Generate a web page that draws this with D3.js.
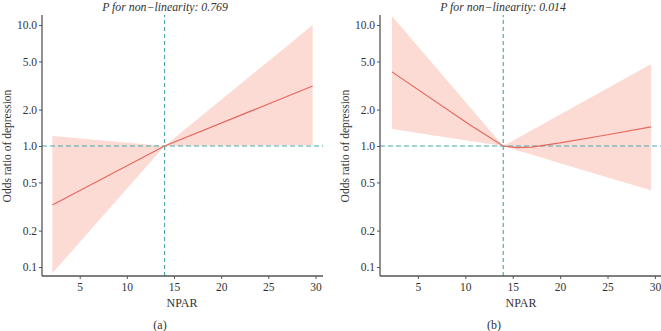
<!DOCTYPE html>
<html>
<head>
<meta charset="utf-8">
<script src="https://cdn.jsdelivr.net/npm/d3@7"></script>
<style>
body { margin: 0; background: #fff; }
text { font-family: "Liberation Serif", "DejaVu Serif", serif; fill: #333; }
</style>
</head>
<body>
<svg id="chart" width="661" height="331"></svg>
<script>
// ================= DATA =================
var yTicks = [0.1, 0.2, 0.5, 1.0, 2.0, 5.0, 10.0];
var xTicks = [5, 10, 15, 20, 25, 30];

// panel (a)
var aX     = [2.1, 14, 29.7];
var aOR    = [0.325, 1.0, 3.13];
var aLower = [0.089, 1.0, 1.02];
var aUpper = [1.21, 1.0, 10.0];
var aTitle = "P for non\u2212linearity: 0.769";

// panel (b)
var bX     = [2.26, 10.5, 14, 15.5, 17, 20, 25, 29.6];
var bOR    = [4.1, 1.49, 1.0, 0.97, 0.98, 1.06, 1.24, 1.44];
var bLower = [1.38, 1.10, 1.0, 0.92, 0.85, 0.72, 0.55, 0.43];
var bUpper = [11.9, 2.09, 1.0, 1.16, 1.35, 1.82, 3.0, 4.76];
var bTitle = "P for non\u2212linearity: 0.014";

var refX = 14;
var refY = 1;

var lineColor = "#e4685f";
var ribbonColor = "#fcdbd5";
var dashColor = "#4aa5a5";
var axisColor = "#555";

var svg = d3.select("#chart");

function panel(opts) {
    var xs = d3.scaleLinear().domain(opts.xDomain).range(opts.xRange);
    var ys = d3.scaleLog().domain([0.0843, 12.1]).range([276, 15]);

    var g = svg.append("g");

    var rows = opts.x.map(function(d, i) {
        return { x: d, or: opts.or[i], lo: opts.lo[i], hi: opts.hi[i] };
    });

    // ribbon
    var area = d3.area()
        .x(function(d) { return xs(d.x); })
        .y0(function(d) { return ys(d.lo); })
        .y1(function(d) { return ys(d.hi); });
    g.append("path").datum(rows)
        .attr("fill", ribbonColor)
        .attr("d", area);

    // reference lines
    g.append("line")
        .attr("x1", xs(opts.xDomain[0])).attr("x2", xs(opts.xDomain[1]))
        .attr("y1", ys(refY)).attr("y2", ys(refY))
        .attr("stroke", dashColor).attr("stroke-width", 1.1)
        .attr("stroke-dasharray", "5,3");
    g.append("line")
        .attr("x1", xs(refX)).attr("x2", xs(refX))
        .attr("y1", ys.range()[0]).attr("y2", ys.range()[1])
        .attr("stroke", dashColor).attr("stroke-width", 1.1)
        .attr("stroke-dasharray", "4,3");

    // fitted line
    var line = d3.line()
        .x(function(d) { return xs(d.x); })
        .y(function(d) { return ys(d.or); });
    g.append("path").datum(rows)
        .attr("fill", "none")
        .attr("stroke", lineColor)
        .attr("stroke-width", 1.2)
        .attr("d", line);

    // axes
    var yAxis = g.append("g")
        .attr("transform", "translate(" + opts.xRange[0] + ",0)")
        .call(d3.axisLeft(ys).tickValues(yTicks).tickFormat(d3.format(".1f")).tickSize(3).tickPadding(2));
    var xAxis = g.append("g")
        .attr("transform", "translate(0," + ys.range()[0] + ")")
        .call(d3.axisBottom(xs).tickValues(xTicks).tickFormat(d3.format("d")).tickSize(3).tickPadding(4));
    [yAxis, xAxis].forEach(function(a) {
        a.select(".domain").attr("stroke", axisColor).attr("stroke-width", 1.3);
        a.selectAll(".tick line").attr("stroke", axisColor);
        a.selectAll("text").style("font-family", "Liberation Serif, DejaVu Serif, serif")
            .style("font-size", "11.5px").attr("fill", "#444");
    });
    // no outer tick stubs on the domain path
    yAxis.select(".domain").attr("d", "M0," + ys.range()[0] + "V" + ys.range()[1]);
    xAxis.select(".domain").attr("d", "M" + opts.xRange[0] + ",0H" + opts.xRange[1]);

    // title
    g.append("text")
        .attr("x", opts.titleX).attr("y", 10.5)
        .attr("text-anchor", "middle")
        .style("font-size", "11.8px").style("font-style", "italic")
        .text(opts.title);

    // axis titles
    g.append("text")
        .attr("transform", "translate(" + (opts.xRange[0] - 31) + ",146) rotate(-90)")
        .attr("text-anchor", "middle")
        .style("font-size", "11.5px")
        .text("Odds ratio of depression");
    g.append("text")
        .attr("x", opts.nparX).attr("y", 307)
        .attr("text-anchor", "middle")
        .style("font-size", "12px")
        .text("NPAR");
    g.append("text")
        .attr("x", opts.labelX).attr("y", 329)
        .attr("text-anchor", "middle")
        .style("font-size", "12px")
        .text(opts.label);
}

panel({ x: aX, or: aOR, lo: aLower, hi: aUpper, title: aTitle,
        xDomain: [1, 30.8], xRange: [42, 323], titleX: 165, nparX: 182, labelX: 160, label: "(a)" });
panel({ x: bX, or: bOR, lo: bLower, hi: bUpper, title: bTitle,
        xDomain: [1, 31], xRange: [380, 664.4], titleX: 503, nparX: 521, labelX: 494, label: "(b)" });
</script>
</body>
</html>
